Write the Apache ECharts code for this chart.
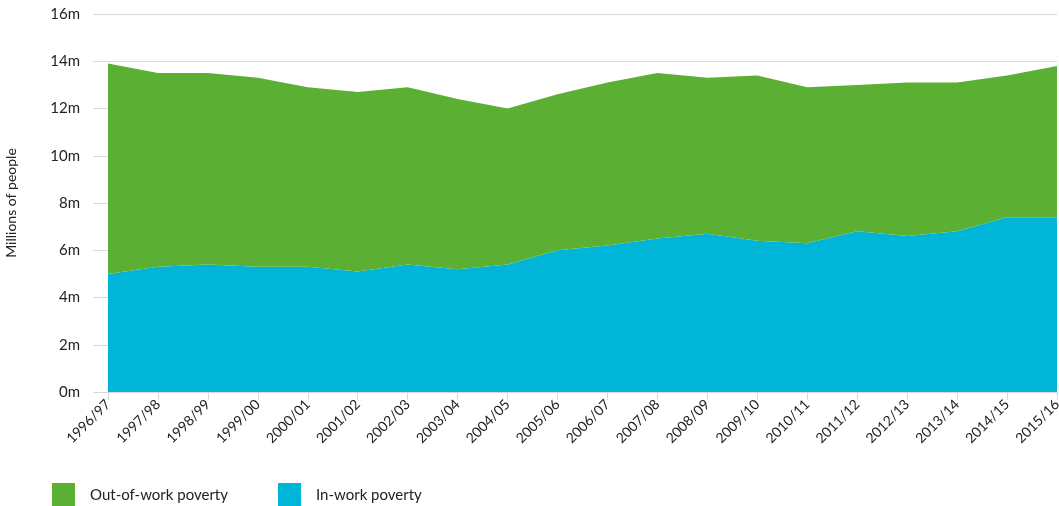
<!DOCTYPE html>
<html>
<head>
<meta charset="utf-8">
<script src="https://cdn.jsdelivr.net/npm/echarts@6/dist/echarts.min.js"></script>
<style>
  html, body { margin: 0; padding: 0; background: #fff; }
  #chart { width: 1059px; height: 506px; }
</style>
</head>
<body>
<div id="chart"></div>
<script>
const years = [
  "1996/97", "1997/98", "1998/99", "1999/00", "2000/01", "2001/02", "2002/03",
  "2003/04", "2004/05", "2005/06", "2006/07", "2007/08", "2008/09", "2009/10",
  "2010/11", "2011/12", "2012/13", "2013/14", "2014/15", "2015/16"
];
// millions of people
const inWork = [5.0, 5.3, 5.4, 5.3, 5.3, 5.1, 5.4, 5.2, 5.4, 6.0, 6.2, 6.5, 6.7, 6.4, 6.3, 6.8, 6.6, 6.8, 7.4, 7.4];
const outOfWork = [8.9, 8.2, 8.1, 8.0, 7.6, 7.6, 7.5, 7.2, 6.6, 6.6, 6.9, 7.0, 6.6, 7.0, 6.6, 6.2, 6.5, 6.3, 6.0, 6.4];
const yTicks = [0, 2, 4, 6, 8, 10, 12, 14, 16];

const chart = echarts.init(document.getElementById("chart"));

const font = "Lato, 'Open Sans', sans-serif";

let option = {
  animation: false,
  textStyle: { fontFamily: font, color: "#222" },
  grid: {
    left: 108,
    right: 2,
    top: 14,
    bottom: 114,
    outerBoundsMode: "none",
  },
  legend: {
    left: 52,
    top: 483,
    padding: 0,
    itemWidth: 23,
    itemHeight: 24,
    itemGap: 50,
    icon: "rect",
    data: ["Out-of-work poverty", "In-work poverty"],
    textStyle: {
      fontFamily: font,
      fontSize: 15,
      color: "#222",
      padding: [0, 0, 0, 10],
    },
  },
  xAxis: {
    type: "category",
    data: years,
    boundaryGap: false,
    axisLine: { lineStyle: { color: "#d9d9d9", width: 1 } },
    axisTick: {
      alignWithLabel: true,
      length: 8,
      lineStyle: { color: "#d9d9d9" },
    },
    axisLabel: {
      rotate: 45,
      interval: 0,
      margin: 10,
      fontSize: 14,
      color: "#222",
      fontFamily: font,
    },
  },
  yAxis: {
    type: "value",
    min: yTicks[0],
    max: yTicks[yTicks.length - 1],
    interval: 2,
    name: "Millions of people",
    nameLocation: "middle",
    nameRotate: 90,
    nameGap: 90,
    nameTextStyle: { fontSize: 14, color: "#222", fontFamily: font },
    axisLine: { show: false },
    axisTick: {
      show: true,
      length: 15,
      lineStyle: { color: "#d9d9d9" },
    },
    splitLine: { lineStyle: { color: "#d9d9d9", width: 1 } },
    axisLabel: {
      margin: 28,
      fontSize: 15,
      color: "#222",
      fontFamily: font,
      formatter: function (v) {
        return v + "m";
      },
    },
  },
  series: [
    {
      name: "In-work poverty",
      type: "line",
      stack: "total",
      data: inWork,
      showSymbol: false,
      symbol: "none",
      lineStyle: { width: 0 },
      itemStyle: { color: "#00b5d8" },
      areaStyle: { color: "#00b5d8", opacity: 1 },
    },
    {
      name: "Out-of-work poverty",
      type: "line",
      stack: "total",
      data: outOfWork,
      showSymbol: false,
      symbol: "none",
      lineStyle: { width: 0 },
      itemStyle: { color: "#5bb033" },
      areaStyle: { color: "#5bb033", opacity: 1 },
    },
  ],
};

chart.setOption(option);
</script>
</body>
</html>
